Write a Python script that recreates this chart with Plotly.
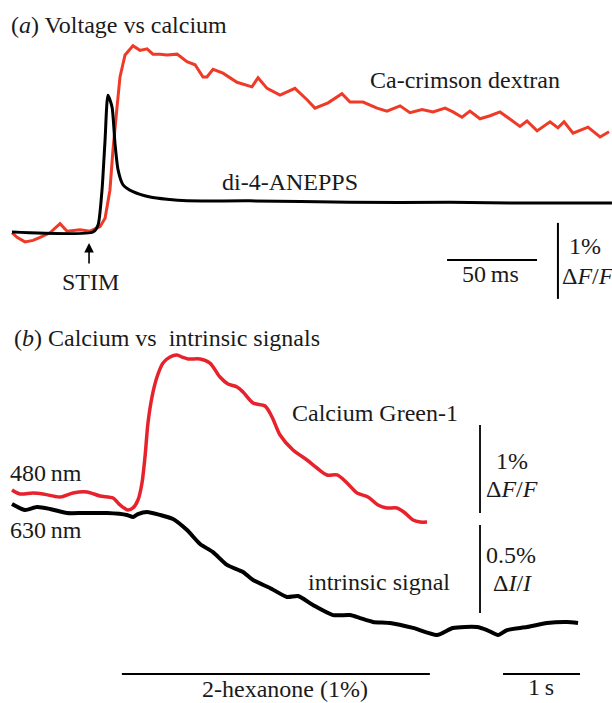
import plotly.graph_objects as go

# ---------------- Panel (a): voltage vs calcium (time in ms, signal in % dF/F)
a_red_t = [0, 2.8, 7.2, 11.7, 15.6, 21.1, 26.7, 30.6, 37.8, 43.3, 48.9, 51.7, 54.4, 56.1, 58.3, 60,
           62.8, 67.2, 71.1, 75, 78.3, 82.2, 86.1, 91.7, 97.2, 101.7, 106.1, 108.3, 111.7, 117.2, 125,
           133.3, 136.7, 141.7, 148.9, 157.2, 163.9, 168.3, 175.6, 183.3, 187.8, 195, 202.8, 208.3,
           215.6, 221.1, 227.8, 233.9, 240.6, 245, 250, 254.4, 260, 265.6, 271.1, 275, 282.2, 286.1,
           291.7, 298.9, 303.3, 306.7, 311.7, 320, 326.7, 331.7]
a_red_v = [-0.01, -0.07, -0.13, -0.11, -0.07, -0.01, 0.11, 0.01, 0.03, 0.01, 0.07, 0.18, 0.55, 1.08,
           1.63, 2.04, 2.33, 2.45, 2.39, 2.41, 2.34, 2.34, 2.33, 2.34, 2.24, 2.20, 2.04, 2.04, 2.14,
           2.09, 1.97, 1.91, 2.03, 1.89, 1.80, 1.89, 1.74, 1.63, 1.70, 1.82, 1.71, 1.71, 1.63, 1.59,
           1.66, 1.57, 1.61, 1.58, 1.63, 1.58, 1.51, 1.59, 1.49, 1.53, 1.58, 1.51, 1.39, 1.46, 1.33,
           1.45, 1.37, 1.45, 1.30, 1.38, 1.25, 1.32]
a_blk_t = [0, 45, 47.8, 50, 51.7, 53.3, 55.6, 57.2, 58.9, 61.7, 67.2, 76.7, 86.1, 97.2, 132.2,
           187.8, 243.3, 287.8, 333.3]
a_blk_v = [0, 0, 0.09, 0.55, 1.21, 1.80, 1.64, 1.17, 0.82, 0.62, 0.53, 0.46, 0.43, 0.41, 0.41,
           0.39, 0.39, 0.38, 0.38]
a_stim_t = 42.8
a_bar_t = [241.7, 291.7]      # 50 ms
a_bar_v = -0.37
a_vbar_t = 303.3
a_vbar_v = [0.12, -0.88]      # 1 %

# ---------------- Panel (b): calcium vs intrinsic (time in s)
b_red_t = [0.013, 0.117, 0.286, 0.416, 0.636, 0.805, 0.987, 1.156, 1.325, 1.416, 1.519, 1.584,
           1.649, 1.701, 1.740, 1.779, 1.831, 1.896, 1.974, 2.065, 2.156, 2.221, 2.299, 2.455,
           2.584, 2.714, 2.818, 2.935, 3.013, 3.143, 3.299, 3.390, 3.494, 3.662, 3.844, 3.974,
           4.104, 4.234, 4.364, 4.494, 4.636, 4.766, 4.883, 5.013, 5.117, 5.221, 5.312, 5.403]
b_red_v = [0.034, -0.011, 0, -0.011, -0.045, 0, 0.011, -0.034, -0.057, -0.136, -0.193, -0.170,
           -0.080, 0.114, 0.409, 0.795, 1.091, 1.318, 1.477, 1.545, 1.568, 1.545, 1.523, 1.523,
           1.477, 1.318, 1.239, 1.205, 1.148, 1.023, 0.989, 0.864, 0.659, 0.489, 0.375, 0.284,
           0.205, 0.205, 0.114, 0, -0.045, -0.136, -0.170, -0.170, -0.227, -0.307, -0.330, -0.330]
b_blk_t = [0.013, 0.182, 0.338, 0.506, 0.727, 0.935, 1.247, 1.506, 1.584, 1.649, 1.766, 1.935,
           2.104, 2.286, 2.455, 2.623, 2.805, 3.013, 3.143, 3.364, 3.584, 3.727, 3.922, 4.182,
           4.403, 4.532, 4.701, 4.922, 5.221, 5.532, 5.740, 6.052, 6.182, 6.325, 6.442, 6.701,
           6.961, 7.221, 7.364]
b_blk_w = [0.051, 0.017, 0.034, 0.023, 0, 0, 0, -0.011, -0.023, -0.006, 0.006, -0.011, -0.034,
           -0.097, -0.176, -0.222, -0.295, -0.335, -0.381, -0.426, -0.477, -0.472, -0.523, -0.580,
           -0.580, -0.597, -0.619, -0.625, -0.653, -0.693, -0.653, -0.648, -0.665, -0.693, -0.665,
           -0.648, -0.625, -0.619, -0.625]
b_odor_t = [1.44, 5.44]        # 2-hexanone, 4 s
b_sbar_t = [6.39, 7.39]        # 1 s
b_bar_w = -0.915
b_vbar_t = 6.091
b_vbar_v = [0.773, -0.227]     # 1 % dF/F
b_vbar_w = [-0.068, -0.568]    # 0.5 % dI/I

W, H = 612, 703
RED_A = "#ee3a26"
RED_B = "#e8222c"
FONT = "Liberation Serif"
FS = 24

def px(x):
    return x / W

def py(y):
    return 1 - y / H

fig = go.Figure()
# panel a
fig.add_trace(go.Scatter(x=a_red_t, y=a_red_v, mode="lines", line=dict(color=RED_A, width=3),
                         xaxis="x", yaxis="y"))
fig.add_trace(go.Scatter(x=a_blk_t, y=a_blk_v, mode="lines", line=dict(color="black", width=3, shape="spline", smoothing=0.6),
                         xaxis="x", yaxis="y"))
fig.add_trace(go.Scatter(x=a_bar_t, y=[a_bar_v, a_bar_v], mode="lines", line=dict(color="black", width=2),
                         xaxis="x", yaxis="y"))
fig.add_trace(go.Scatter(x=[a_vbar_t, a_vbar_t], y=a_vbar_v, mode="lines", line=dict(color="black", width=2),
                         xaxis="x", yaxis="y"))
# panel b
fig.add_trace(go.Scatter(x=b_red_t, y=b_red_v, mode="lines", line=dict(color=RED_B, width=3.5, shape="spline", smoothing=0.8),
                         xaxis="x2", yaxis="y2"))
fig.add_trace(go.Scatter(x=[b_vbar_t, b_vbar_t], y=b_vbar_v, mode="lines", line=dict(color="black", width=1.8),
                         xaxis="x2", yaxis="y2"))
fig.add_trace(go.Scatter(x=b_blk_t, y=b_blk_w, mode="lines", line=dict(color="black", width=4, shape="spline", smoothing=0.6),
                         xaxis="x2", yaxis="y3"))
fig.add_trace(go.Scatter(x=[b_vbar_t, b_vbar_t], y=b_vbar_w, mode="lines", line=dict(color="black", width=1.8),
                         xaxis="x2", yaxis="y3"))
fig.add_trace(go.Scatter(x=b_odor_t, y=[b_bar_w, b_bar_w], mode="lines", line=dict(color="black", width=2),
                         xaxis="x2", yaxis="y3"))
fig.add_trace(go.Scatter(x=b_sbar_t, y=[b_bar_w, b_bar_w], mode="lines", line=dict(color="black", width=2),
                         xaxis="x2", yaxis="y3"))

split = 1 - 320 / H
hidden = dict(visible=False, showgrid=False, zeroline=False, fixedrange=True)
fig.update_layout(
    width=W, height=H, margin=dict(l=0, r=0, t=0, b=0),
    paper_bgcolor="white", plot_bgcolor="white", showlegend=False,
    xaxis=dict(domain=[0, 1], range=[-12 / 1.8, 600 / 1.8], anchor="y", **hidden),
    yaxis=dict(domain=[split, 1], range=[(232 - 320) / 76, 232 / 76], anchor="x", **hidden),
    xaxis2=dict(domain=[0, 1], range=[-11 / 77, 601 / 77], anchor="y2", **hidden),
    yaxis2=dict(domain=[0, split], range=[(493 - 703) / 88, (493 - 320) / 88], anchor="x2", **hidden),
    yaxis3=dict(domain=[0, split], range=[(513 - 703) / 176, (513 - 320) / 176], anchor="x2",
                overlaying="y2", **hidden),
)

def label(text, x, y, anchor="left", size=FS):
    fig.add_annotation(text=text, x=px(x), y=py(y), xref="paper", yref="paper",
                       xanchor=anchor, yanchor="middle", showarrow=False,
                       font=dict(family=FONT, size=size, color="#1a1a1a"))

# stim arrow
fig.add_annotation(x=a_stim_t, y=(232 - 243) / 76, xref="x", yref="y", text="", showarrow=True,
                   ax=0, ay=22, arrowhead=2, arrowsize=1.2, arrowwidth=1.6, arrowcolor="black")

label("(<i>a</i>) Voltage vs calcium", 9, 25)
label("Ca-crimson dextran", 368, 80)
label("di-4-ANEPPS", 220, 182)
label("STIM", 90, 282, "center")
label("50\u2009ms", 490, 274, "center")
label("1%", 585, 246, "center")
label("\u0394<i>F</i>/<i>F</i>", 560, 276)
label("(<i>b</i>) Calcium vs  intrinsic signals", 12, 338)
label("Calcium Green-1", 290, 413)
label("480\u2009nm", 8, 473)
label("630\u2009nm", 8, 530)
label("1%", 512, 461, "center")
label("\u0394<i>F</i>/<i>F</i>", 512, 489, "center")
label("0.5%", 511, 555, "center")
label("\u0394<i>I</i>/<i>I</i>", 512, 583, "center")
label("intrinsic signal", 306, 582)
label("2-hexanone (1%)", 285, 689, "center")
label("1\u2009s", 541, 687, "center")

fig.write_html("out.html", config={"displayModeBar": False},
               post_script="document.body.style.margin='0px';document.body.style.overflow='hidden';")
